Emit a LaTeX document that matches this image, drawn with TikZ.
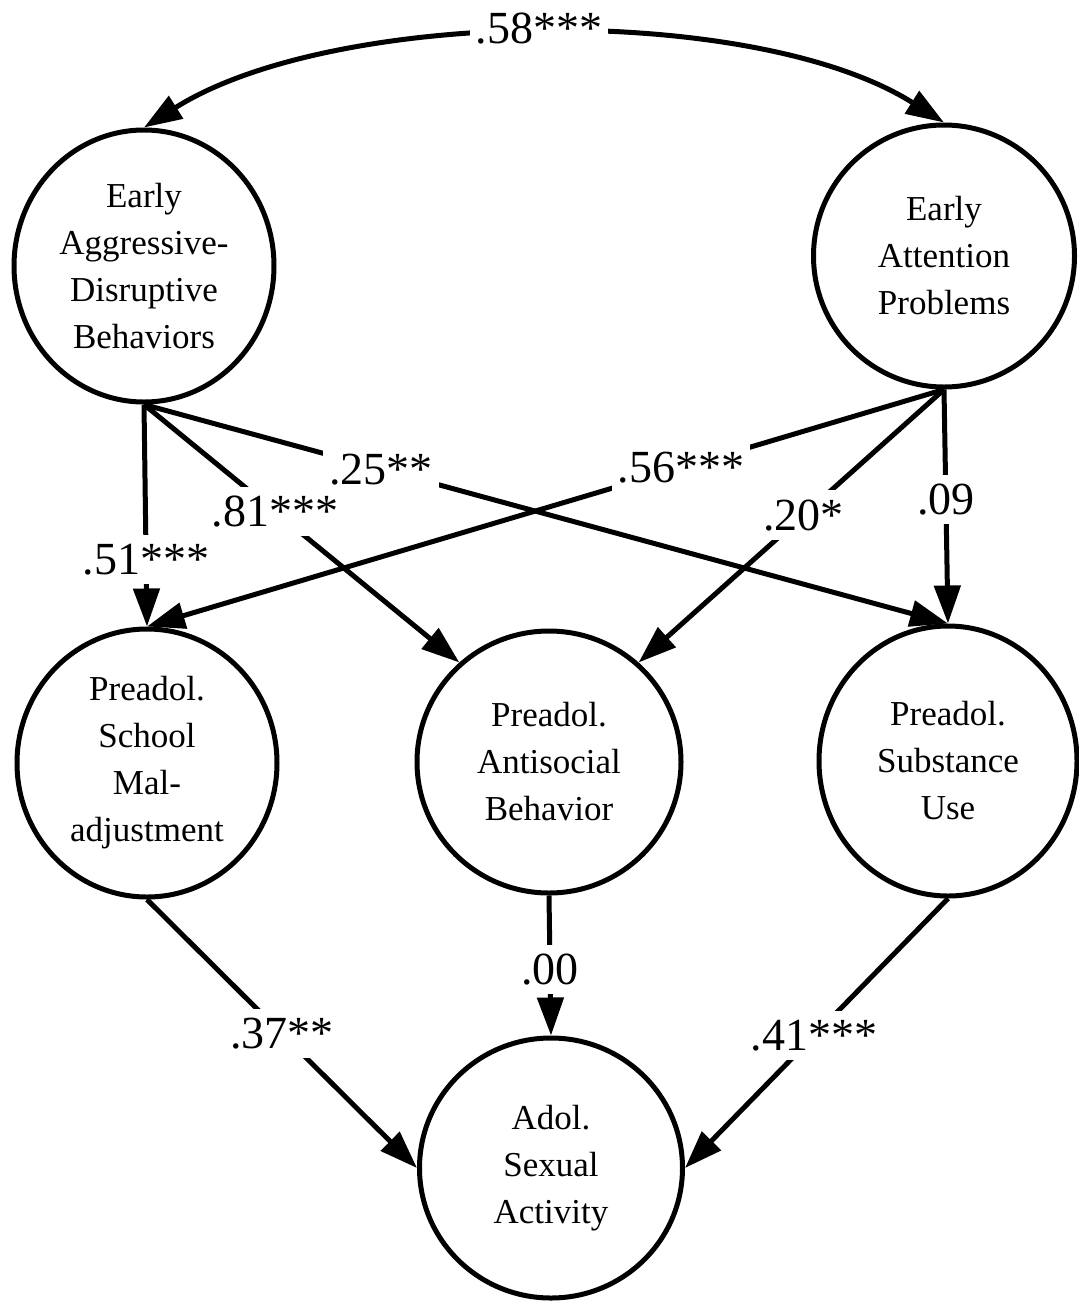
\documentclass[tikz,border=0pt]{standalone}
\usepackage{fontspec}
\setmainfont{Liberation Serif}
\usetikzlibrary{arrows.meta,shapes.geometric}
\begin{document}
\begin{tikzpicture}[x=1pt,y=-1pt,
  latent/.style={draw, ellipse, line width=5pt, inner sep=0pt, align=center,
    font=\fontsize{35}{47}\selectfont},
  lbl/.style={fill=white, inner xsep=6pt, inner ysep=9pt, font=\fontsize{46}{50}\selectfont},
  arr/.style={line width=5pt, -{Triangle[length=38pt,width=26pt]}},
  dblarr/.style={line width=5pt, {Triangle[length=38pt,width=26pt]}-{Triangle[length=38pt,width=26pt]}}
]
\useasboundingbox (0,0) rectangle (1079,1302);

\node[latent, minimum width=260pt, minimum height=272pt] (ea) at (144,266)
  {Early\\Aggressive-\\Disruptive\\Behaviors};
\node[latent, minimum width=261pt, minimum height=262pt] (eap) at (944,256)
  {Early\\Attention\\Problems};
\node[latent, minimum width=260pt, minimum height=268pt] (sch) at (147,763)
  {Preadol.\\School\\Mal-\\adjustment};
\node[latent, minimum width=264pt, minimum height=262pt] (anti) at (549,762)
  {Preadol.\\Antisocial\\Behavior};
\node[latent, minimum width=258pt, minimum height=270pt] (sub) at (948,761)
  {Preadol.\\Substance\\Use};
\node[latent, minimum width=263pt, minimum height=260pt] (adol) at (551,1168)
  {Adol.\\Sexual\\Activity};

\draw[arr] (ea.south) -- node[lbl, pos=0.70] {.51***} (sch.north);
\draw[arr] (ea.south) -- node[lbl, pos=0.415] {.81***} (anti.132);
\draw[arr] (ea.south) -- node[lbl, pos=0.295] {.25**} (sub.north);
\draw[arr] (eap.south) -- node[lbl, pos=0.33] {.56***} (sch.north);
\draw[arr] (eap.south) -- node[lbl, pos=0.46] {.20*} (anti.48);
\draw[arr] (eap.south) -- node[lbl, pos=0.47] {.09} (sub.north);
\draw[arr] (sch.south) -- node[lbl, pos=0.5] {.37**} (adol.west);
\draw[arr] (anti.south) -- node[lbl, pos=0.53] {.00} (adol.north);
\draw[arr] (sub.south) -- node[lbl, pos=0.51] {.41***} (adol.east);
\draw[dblarr] (ea.north) .. controls +(190,-120) and +(-190,-120) ..
  node[lbl, pos=0.5, yshift=6pt, xshift=-5pt, inner ysep=4pt] {.58***} (eap.north);
\end{tikzpicture}
\end{document}
